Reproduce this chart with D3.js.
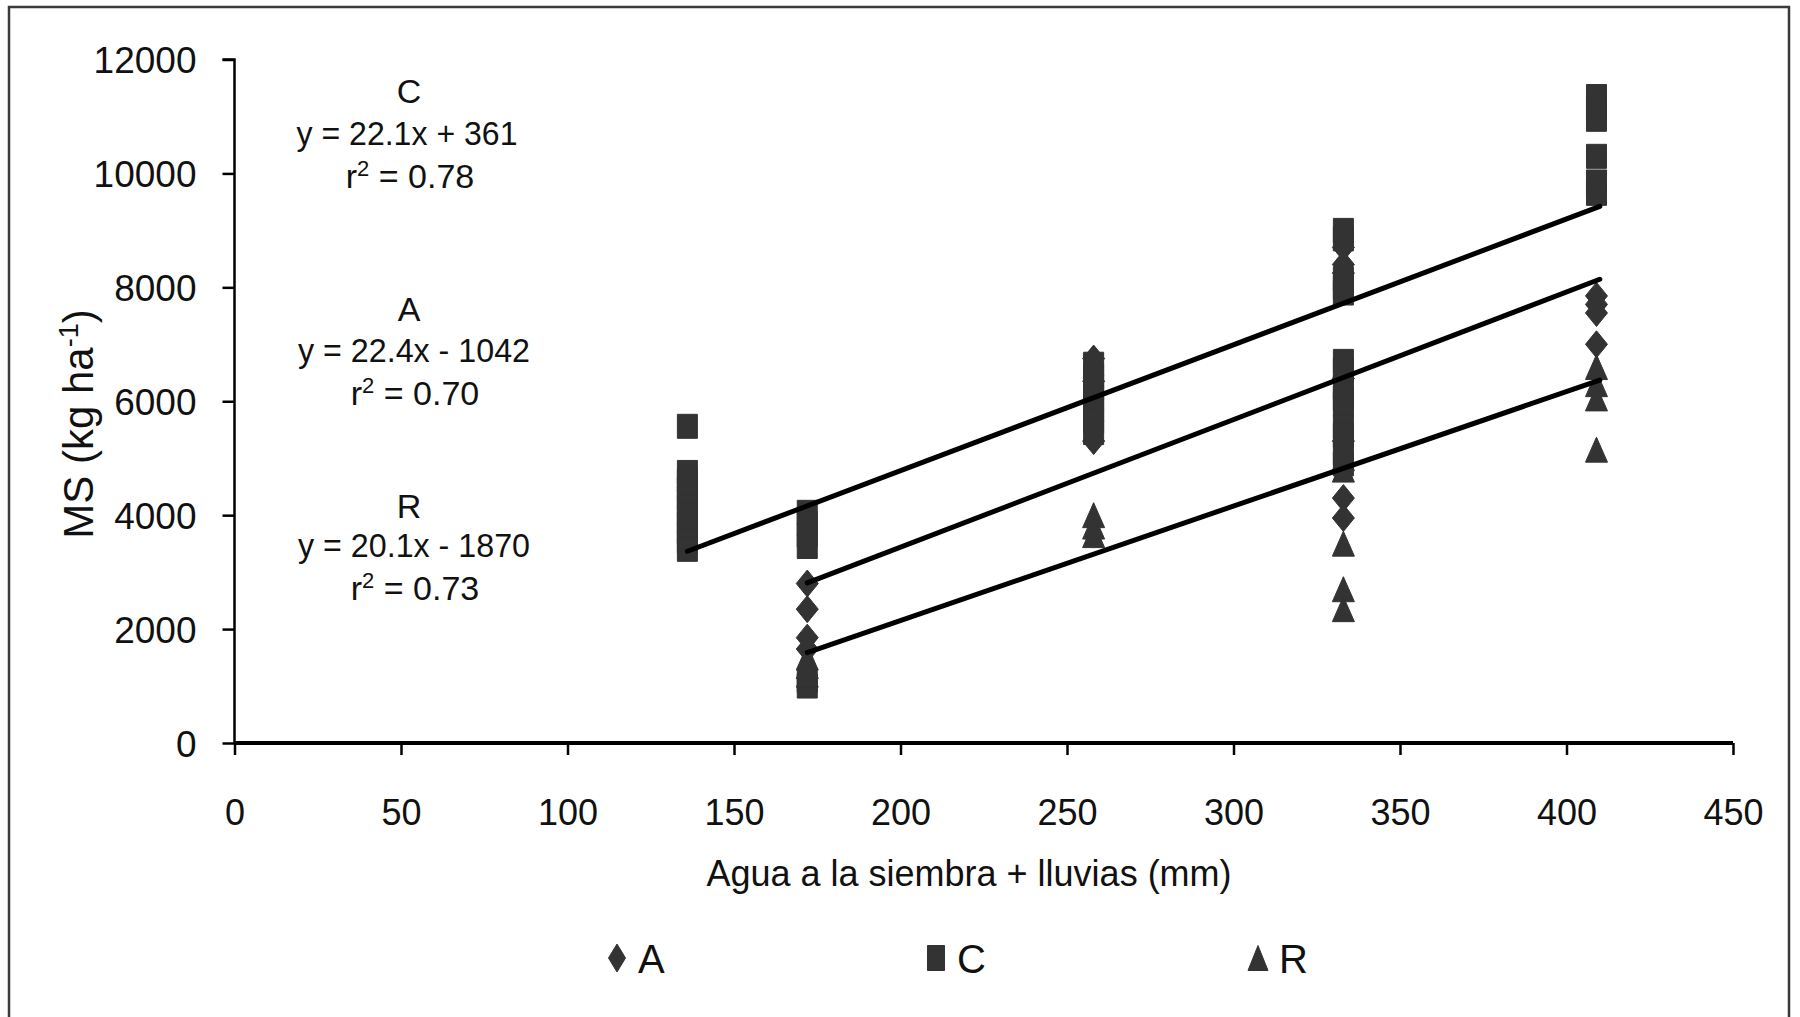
<!DOCTYPE html>
<html><head><meta charset="utf-8">
<script src="https://cdn.jsdelivr.net/npm/d3@7/dist/d3.min.js"></script>
<style>
html,body{margin:0;padding:0;background:#fff;}
svg{display:block;}
text{font-family:"Liberation Sans",Arial,Helvetica,sans-serif;fill:#111;}
</style></head>
<body>
<svg id="chart" width="1800" height="1017"></svg>
<script>
// ---- data ----
const xTicks = [0, 50, 100, 150, 200, 250, 300, 350, 400, 450];
const yTicks = [0, 2000, 4000, 6000, 8000, 10000, 12000];

// Series C (squares)
const cX = [136,136,136,136,136,136,136,136,136,136,136,
            172,172,172,172,172,172,
            258,258,258,258,258,258,258,
            333,333,333,333,333,333,333,333,333,333,333,333,333,333,
            409,409,409,409,409,409];
const cY = [5560,4750,4600,4450,4300,4150,4000,3850,3700,3550,3400,
            4050,3850,3650,3450,1100,1000,
            6650,6450,6250,6050,5850,5650,5450,
            9000,8850,8150,8000,7900,6700,6550,6250,6050,5950,5550,5400,5100,4900,
            11350,11150,10950,10300,9850,9650];
// Series A (diamonds)
const aX = [172,172,172,172,258,258,258,333,333,333,333,333,333,333,409,409,409,409];
const aY = [2800,2350,1850,1650,6750,6350,5300,8700,8400,8250,6400,5300,4300,3950,7850,7700,7550,7000];
// Series R (triangles)
const rX = [172,172,172,258,258,258,333,333,333,333,333,409,409,409,409];
const rY = [1500,1350,1200,4000,3800,3650,5000,4800,3500,2700,2350,6600,6300,6050,5150];

// Regression fits
const fitNames = ["C", "A", "R"];
const fitSlope = [22.1, 22.4, 20.1];
const fitIntercept = [361, -1042, -1870];
const fitFrom = [136, 172, 172];
const fitTo = [410, 410, 410];
const fitEq = ["y = 22.1x + 361", "y = 22.4x - 1042", "y = 20.1x - 1870"];
const fitR2 = ["0.78", "0.70", "0.73"];

const legendNames = ["A", "C", "R"];

// ---- drawing ----
const svg = d3.select("#chart");
const ink = "#333333";

// outer frame (top, left, right)
svg.append("path")
  .attr("d", "M9,1017 L9,7 L1789,7 L1789,1017")
  .attr("fill", "none").attr("stroke", "#3a3a3a").attr("stroke-width", 2.5);

const x = d3.scaleLinear().domain([0, 450]).range([234.5, 1733]);
const y = d3.scaleLinear().domain([0, 12000]).range([743, 59.5]);

// axes
const yAxis = svg.append("g").attr("transform", "translate(234.5,0)")
  .call(d3.axisLeft(y).tickValues(yTicks).tickSize(12).tickPadding(26).tickFormat(d3.format("d")));
const xAxis = svg.append("g").attr("transform", "translate(0,743)")
  .call(d3.axisBottom(x).tickValues(xTicks).tickSize(12).tickPadding(44).tickFormat(d3.format("d")));
[yAxis, xAxis].forEach(g => {
  g.select(".domain").attr("stroke", "#000");
  g.selectAll(".tick line").attr("stroke", "#000").attr("stroke-width", 2.5);
  g.selectAll("text").style("font-size", "36px").attr("fill", "#111")
    .style("font-family", '"Liberation Sans",Arial,sans-serif');
});
yAxis.selectAll(".tick text").style("font-size", "37px");
yAxis.select(".domain").attr("stroke-width", 2.5).attr("d", `M-12,${y(12000)}H0V${y(0)}`);
xAxis.select(".domain").attr("stroke-width", 4).attr("d", `M${x(0)},0H${x(450)}`);
yAxis.selectAll(".tick text").attr("dy", "0.36em");

// axis titles
svg.append("text")
  .attr("x", 969).attr("y", 886).attr("text-anchor", "middle")
  .style("font-size", "36px")
  .text("Agua a la siembra + lluvias (mm)");

const yl = svg.append("text")
  .attr("transform", "translate(93,424) rotate(-90)")
  .attr("text-anchor", "middle")
  .style("font-size", "42px");
yl.append("tspan").text("MS (kg ha");
yl.append("tspan").attr("dy", -15).style("font-size", "27px").text("-1");
yl.append("tspan").attr("dy", 15).text(")");

// marker path generators
function squarePath(w, h) { return `M${-w/2},${-h/2}h${w}v${h}h${-w}Z`; }
function diamondPath(w, h) { return `M0,${-h/2}L${w/2},0L0,${h/2}L${-w/2},0Z`; }
function trianglePath(w, h) { return `M0,${-h/2}L${w/2},${h/2}L${-w/2},${h/2}Z`; }

const plot = svg.append("g");

// points
function drawSeries(xs, ys, pathStr) {
  plot.append("g").selectAll("path").data(xs.map((v, i) => [v, ys[i]])).join("path")
    .attr("d", pathStr)
    .attr("transform", d => `translate(${x(d[0])},${y(d[1])})`)
    .attr("fill", ink).attr("stroke", ink).attr("stroke-width", 1).attr("stroke-linejoin", "round");
}
drawSeries(cX, cY, squarePath(20, 24));
drawSeries(aX, aY, diamondPath(22, 27));
drawSeries(rX, rY, trianglePath(22, 25));

// regression lines
fitNames.forEach((n, i) => {
  plot.append("line")
    .attr("x1", x(fitFrom[i])).attr("y1", y(fitSlope[i] * fitFrom[i] + fitIntercept[i]))
    .attr("x2", x(fitTo[i])).attr("y2", y(fitSlope[i] * fitTo[i] + fitIntercept[i]))
    .attr("stroke", "#000").attr("stroke-width", 5).attr("stroke-linecap", "round");
});

// equation annotations
const annoY = [[103, 145, 188], [321, 362, 405], [518, 557, 600]];
const annoW = [221, 232, 232];
fitNames.forEach((n, i) => {
  const g = svg.append("g").attr("text-anchor", "middle").style("font-size", "34px");
  g.append("text").attr("x", 409).attr("y", annoY[i][0]).text(n);
  g.append("text").attr("x", 407 + (i ? 7 : 0)).attr("y", annoY[i][1])
    .attr("textLength", annoW[i]).attr("lengthAdjust", "spacingAndGlyphs").text(fitEq[i]);
  const r = g.append("text").attr("x", 410 + (i ? 5 : 0)).attr("y", annoY[i][2]);
  r.append("tspan").text("r");
  r.append("tspan").attr("dy", -12).style("font-size", "22px").text("2");
  r.append("tspan").attr("dy", 12).text(" = " + fitR2[i]);
});

// legend
const legX = [617, 936, 1258];
const legShapes = [diamondPath(17, 28), squarePath(17, 25), trianglePath(20, 25)];
legendNames.forEach((n, i) => {
  svg.append("path").attr("d", legShapes[i])
    .attr("transform", `translate(${legX[i]},958)`)
    .attr("fill", ink).attr("stroke", ink).attr("stroke-linejoin", "round");
  svg.append("text").attr("x", legX[i] + 21).attr("y", 973)
    .style("font-size", "40px").text(n);
});
</script>
</body></html>
